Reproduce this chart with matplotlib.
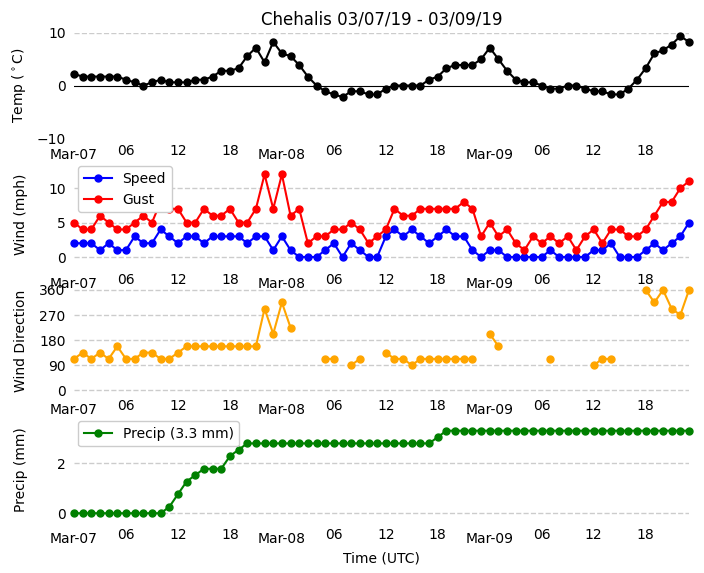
import numpy as np
import pandas as pd
import matplotlib
matplotlib.use('Agg')
from matplotlib import pyplot as plt
import matplotlib.dates as mdates

# hourly obs, Mar-07 00Z .. Mar-09 23Z
times = pd.date_range('2019-03-07 00:00', periods=72, freq='h')

temp_c = [2.2, 1.7, 1.7, 1.7, 1.7, 1.7, 1.1, 0.6, 0.0, 0.6, 1.1, 0.6,
          0.6, 0.6, 1.1, 1.1, 1.7, 2.8, 2.8, 3.3, 5.6, 7.2, 4.4, 8.3,
          6.1, 5.6, 3.9, 1.7, 0.0, -1.1, -1.7, -2.2, -1.1, -1.1, -1.7, -1.7,
          -0.6, 0.0, 0.0, 0.0, 0.0, 1.1, 1.7, 3.3, 3.9, 3.9, 3.9, 5.0,
          7.2, 5.0, 2.8, 1.1, 0.6, 0.6, 0.0, -0.6, -0.6, 0.0, 0.0, -0.6,
          -1.1, -1.1, -1.7, -1.7, -0.6, 1.1, 3.3, 6.1, 6.7, 7.8, 9.4, 8.3]

speed = [2, 2, 2, 1, 2, 1, 1, 3, 2, 2, 4, 3,
         2, 3, 3, 2, 3, 3, 3, 3, 2, 3, 3, 1,
         3, 1, 0, 0, 0, 1, 2, 0, 2, 1, 0, 0,
         3, 4, 3, 4, 3, 2, 3, 4, 3, 3, 1, 0,
         1, 1, 0, 0, 0, 0, 0, 1, 0, 0, 0, 0,
         1, 1, 2, 0, 0, 0, 1, 2, 1, 2, 3, 5]

gust = [5, 4, 4, 6, 5, 4, 4, 5, 6, 5, 8, 7,
        7, 5, 5, 7, 6, 6, 7, 5, 5, 7, 12, 7,
        12, 6, 7, 2, 3, 3, 4, 4, 5, 4, 2, 3,
        4, 7, 6, 6, 7, 7, 7, 7, 7, 8, 7, 3,
        5, 3, 4, 2, 1, 3, 2, 3, 2, 3, 1, 3,
        4, 2, 4, 4, 3, 3, 4, 6, 8, 8, 10, 11]

nan = np.nan
wdir = [112.5, 135, 112.5, 135, 112.5, 157.5, 112.5, 112.5, 135, 135, 112.5, 112.5,
        135, 157.5, 157.5, 157.5, 157.5, 157.5, 157.5, 157.5, 157.5, 157.5, 292.5, 202.5,
        315, 225, nan, nan, nan, 112.5, 112.5, nan, 90, 112.5, nan, nan,
        135, 112.5, 112.5, 90, 112.5, 112.5, 112.5, 112.5, 112.5, 112.5, 112.5, nan,
        202.5, 157.5, nan, nan, nan, nan, nan, 112.5, nan, nan, nan, nan,
        90, 112.5, 112.5, nan, nan, nan, 360, 315, 360, 292.5, 270, 360]

precip = [0, 0, 0, 0, 0, 0, 0, 0, 0, 0, 0, 0.254,
          0.762, 1.27, 1.524, 1.778, 1.778, 1.778, 2.286, 2.54, 2.794, 2.794, 2.794, 2.794,
          2.794, 2.794, 2.794, 2.794, 2.794, 2.794, 2.794, 2.794, 2.794, 2.794, 2.794, 2.794,
          2.794, 2.794, 2.794, 2.794, 2.794, 2.794, 3.048, 3.302, 3.302, 3.302, 3.302, 3.302,
          3.302, 3.302, 3.302, 3.302, 3.302, 3.302, 3.302, 3.302, 3.302, 3.302, 3.302, 3.302,
          3.302, 3.302, 3.302, 3.302, 3.302, 3.302, 3.302, 3.302, 3.302, 3.302, 3.302, 3.302]

W, H = 704, 573
fig = plt.figure(figsize=(W / 100, H / 100), dpi=100)


def make_ax(top, bottom):
    left, right = 74, 689
    return fig.add_axes([left / W, 1 - bottom / H, (right - left) / W, (bottom - top) / H])


def niceplot(ax, yticks, ylim, ylabel):
    for s in ax.spines.values():
        s.set_visible(False)
    ax.set_xlim(times[0], times[-1])
    ax.xaxis.set_major_locator(mdates.DayLocator())
    ax.xaxis.set_major_formatter(mdates.DateFormatter('%b-%d'))
    ax.xaxis.set_minor_locator(mdates.HourLocator(byhour=[6, 12, 18]))
    ax.xaxis.set_minor_formatter(mdates.DateFormatter('%H'))
    ax.tick_params(axis='x', which='major', length=0, pad=7)
    ax.tick_params(axis='x', which='minor', length=0, pad=4)
    ax.tick_params(axis='y', length=0, pad=6)
    ax.set_yticks(yticks)
    ax.set_ylim(ylim)
    ax.grid(True, axis='y', linestyle='--', color='#cccccc', linewidth=1)
    ax.set_ylabel(ylabel, fontsize=10)
    ax.yaxis.set_label_coords(-0.075, 0.5)


kw = dict(marker='o', markersize=5, linewidth=1.5, clip_on=False)

ax1 = make_ax(33, 138)
ax1.plot(times, temp_c, color='k', **kw)
niceplot(ax1, [-10, 0, 10], (-10, 10), 'Temp ($^\\circ$C)')
ax1.axhline(0, color='k', linewidth=0.8, zorder=1)
# no dashed grid at -10 / 0 on the temp panel
ax1.yaxis.get_gridlines()[0].set_visible(False)
ax1.yaxis.get_gridlines()[1].set_visible(False)
ax1.set_title('Chehalis 03/07/19 - 03/09/19', fontsize=12)

ax2 = make_ax(162, 267)
ax2.plot(times, speed, color='b', label='Speed', **kw)
ax2.plot(times, gust, color='r', label='Gust', **kw)
niceplot(ax2, [0, 5, 10], (-1.45, 13.8), 'Wind (mph)')
ax2.legend(loc='upper left', fontsize=10, framealpha=1, borderaxespad=0.3).set_zorder(5)

ax3 = make_ax(288, 393)
ax3.plot(times, wdir, color='orange', **kw)
niceplot(ax3, [0, 90, 180, 270, 360], (-10, 367), 'Wind Direction')

ax4 = make_ax(417, 522)
ax4.plot(times, precip, color='g', label='Precip (%.1f mm)' % max(precip), **kw)
niceplot(ax4, [0, 2], (-0.35, 3.85), 'Precip (mm)')
ax4.legend(loc='upper left', fontsize=10, framealpha=1, borderaxespad=0.3).set_zorder(5)
ax4.set_xlabel('Time (UTC)', fontsize=10)

fig.savefig('out.png', dpi=100)
